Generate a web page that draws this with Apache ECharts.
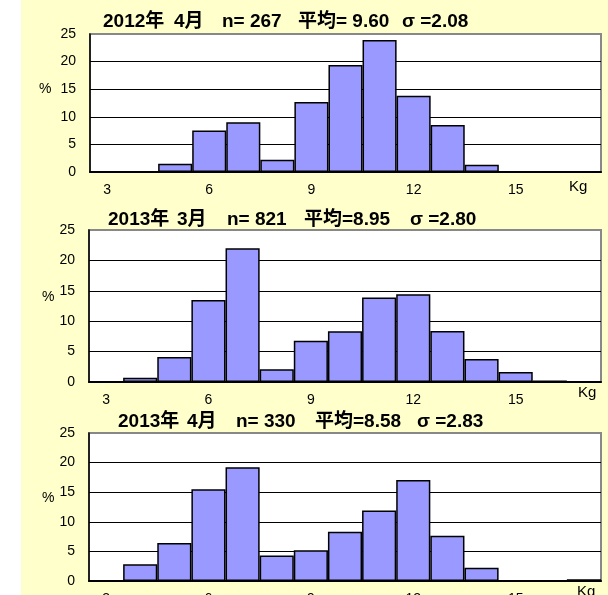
<!DOCTYPE html>
<html><head><meta charset="utf-8">
<script src="https://cdn.jsdelivr.net/npm/echarts@6/dist/echarts.min.js"></script>
<style>html,body{margin:0;padding:0;background:#FFFFCC}#c{width:608px;height:595px}</style>
</head><body><div id="c"></div>
<script>
// ---- data ----
const categories = ['3','4','5','6','7','8','9','10','11','12','13','14','15','16','17'];
const values2012Apr = [0, 0, 1.5, 7.5, 9.0, 2.2, 12.7, 19.4, 23.9, 13.8, 8.5, 1.3, 0, 0, 0];
const values2013Mar = [0, 0.7, 4.1, 13.5, 22.0, 2.1, 6.8, 8.35, 13.9, 14.45, 8.4, 3.8, 1.65, 0.25, 0];
const values2013Apr = [0, 2.85, 6.4, 15.5, 19.2, 4.3, 5.2, 8.3, 11.9, 17.05, 7.65, 2.25, 0, 0, 0.3];
const title2012Apr = ['2012年', '4月', 'n= 267', '平均= 9.60', 'σ =2.08'];
const title2013Mar = ['2013年', '3月', 'n= 821', '平均=8.95', 'σ =2.80'];
const title2013Apr = ['2013年', '4月', 'n= 330', '平均=8.58', 'σ =2.83'];
const yUnit = '%';
const xUnit = 'Kg';

// ---- layout / style ----
const FONT = "'Liberation Sans', 'Noto Sans CJK JP', sans-serif";
const panels = [
  {vals: values2012Apr, title: title2012Apr, left: 90, top: 34, height: 138, tLeft: 103, tTop: 11, widths: [71, 48, 76, 104], pct: [39, 89], kg: [569, 187]},
  {vals: values2013Mar, title: title2013Mar, left: 89, top: 230, height: 152, tLeft: 108, tTop: 209, widths: [69, 50, 77, 106], pct: [42, 297], kg: [578, 393]},
  {vals: values2013Apr, title: title2013Apr, left: 89, top: 433, height: 148, tLeft: 118, tTop: 411, widths: [69, 49, 79, 102], pct: [42, 498], kg: [577, 592]}
];

function makeTitle(p) {
  const keys = ['a','b','c','d','e'];
  const rich = {};
  keys.forEach((k, i) => {
    rich[k] = {fontFamily: FONT, fontWeight: 'bold', fontSize: 19, color: '#000', lineHeight: 22};
    if (i < p.widths.length) rich[k].width = p.widths[i];
  });
  return {
    text: p.title.map((t, i) => '{' + keys[i] + '|' + t + '}').join(''),
    left: p.tLeft, top: p.tTop, padding: 0,
    textStyle: {rich: rich, fontFamily: FONT, fontWeight: 'bold', fontSize: 19, color: '#000'}
  };
}

const option = {
  backgroundColor: '#FFFFCC',
  animation: false,
  title: panels.map(makeTitle),
  grid: panels.map(p => ({
    left: p.left, top: p.top, width: 601 - p.left, height: p.height,
    containLabel: false, outerBoundsMode: 'none',
    show: true, backgroundColor: '#fff', borderColor: '#888', borderWidth: 2
  })),
  xAxis: panels.map((p, i) => ({
    type: 'category', gridIndex: i, data: categories, boundaryGap: true,
    axisLine: {show: true, lineStyle: {color: '#000', width: 2}},
    axisTick: {show: false},
    axisLabel: {interval: 2, margin: 11, fontSize: 14, color: '#000', fontFamily: FONT},
    splitLine: {show: false}
  })),
  yAxis: panels.map((p, i) => ({
    type: 'value', gridIndex: i, min: 0, max: 25, interval: 5,
    axisLine: {show: true, lineStyle: {color: '#000', width: 1.5}},
    axisTick: {show: false},
    axisLabel: {margin: 14, fontSize: 14, color: '#000', fontFamily: FONT},
    splitLine: {show: true, showMinLine: false, showMaxLine: false, lineStyle: {color: '#000', width: 1}}
  })),
  series: panels.map((p, i) => ({
    type: 'bar', xAxisIndex: i, yAxisIndex: i, data: p.vals,
    barCategoryGap: '0%',
    itemStyle: {color: '#9999FF', borderColor: '#000', borderWidth: 1.5},
    silent: true
  })),
  graphic: [
    {type: 'rect', left: 0, top: 0, z: -10, shape: {width: 21, height: 595}, style: {fill: '#fff'}}
  ].concat(panels.map(p => ({
    type: 'text', x: p.pct[0], y: p.pct[1],
    style: {text: yUnit, font: '14px ' + FONT, fill: '#000', textVerticalAlign: 'middle'}
  }))).concat(panels.map(p => ({
    type: 'text', x: p.kg[0], y: p.kg[1],
    style: {text: xUnit, font: '15px ' + FONT, fill: '#000', textVerticalAlign: 'middle'}
  })))
};

const chart = echarts.init(document.getElementById('c'), null, {renderer: 'canvas'});
chart.setOption(option);
</script>
</body></html>
